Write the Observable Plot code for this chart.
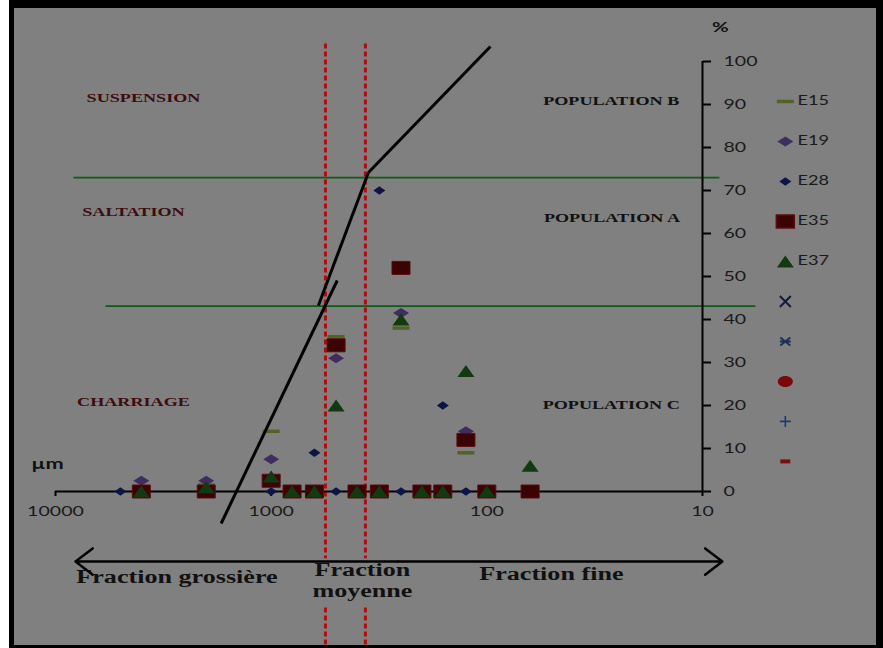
<!DOCTYPE html>
<html><head><meta charset="utf-8">
<script src="https://cdn.jsdelivr.net/npm/d3@7"></script>
<script src="https://cdn.jsdelivr.net/npm/@observablehq/plot@0.6"></script>
<style>
body{margin:0;background:#fff;}
#wrap{position:relative;width:883px;height:648px;overflow:hidden;background:#fff;}
#frame{position:absolute;left:9px;top:0;width:874px;height:648px;box-sizing:border-box;background:#808080;border-style:solid;border-color:#000;border-width:8px 7px 3px 5px;}
#chart{position:absolute;left:0;top:0;width:883px;height:648px;}
</style></head><body>
<div id="wrap"><div id="frame"></div><div id="chart"></div></div>
<script>
// ---- data: sieve sizes (µm) and % retained per sample ----
const sizes = [5000, 4000, 2000, 1000, 800, 630, 500, 400, 315, 250, 200, 160, 125, 100, 63];
const E15 = [null, 0, 1.5, 14, 0, 0, 36, 0, 0, 38, 0, 0, 9, 0, 0];
const E19 = [null, 2.5, 2.5, 7.5, 0, 0, 31, 0, 0, 41.5, 0, 0, 14, 0, 0];
const E28 = [0, 0, 0, 0, 0, 9, 0, 0, 70, 0, 0, 20, 0, 0, 0];
const E35 = [null, 0, 0, 2.5, 0, 0, 34, 0, 0, 52, 0, 0, 12, 0, 0];
const E37 = [null, 0, 1, 3.5, 0, 0, 20, 0, 0, 40, 0, 0, 28, 0, 6];
const seriesNames = ["E15", "E19", "E28", "E35", "E37"];

// axis ticks
const xTicks = [10000, 1000, 100, 10];
const yTicks = [0, 10, 20, 30, 40, 50, 60, 70, 80, 90, 100];

// population boundaries (%), fraction limits (µm)
const popLimits = [73, 43.1];
const popLimitFrom = [8253, 5864];
const popLimitTo = [8.35, 5.69];
const fractionLimits = [560, 365.6];

// segments of the cumulative-curve interpretation (µm, %)
const segX1 = [1706, 604, 354];
const segY1 = [-7.44, 43.26, 74.2];
const segX2 = [494, 354, 96.2];
const segY2 = [49.07, 74.2, 103.5];

// annotations
const zoneLabels = ["SUSPENSION", "SALTATION", "CHARRIAGE"];
const zoneX = [3909, 4350, 4350];
const zoneY = [91.4, 64.9, 20.9];
const popLabels = ["POPULATION B", "POPULATION A", "POPULATION C"];
const popX = [26.5, 26.3, 26.5];
const popY = [90.7, 63.5, 20.2];
const fracLabels = ["Fraction grossière", "Fraction", "moyenne", "Fraction fine"];
const fracX = [2735, 377.5, 377.5, 50.2];
const fracY = [-20, -18.4, -23.3, -19.3];
const legendLabels = ["E15", "E19", "E28", "E35", "E37", "", "", "", "", ""];

// ---- styles ----
const sym = {
  rect: (w, h) => ({draw(c){c.moveTo(-w/2,-h/2);c.lineTo(w/2,-h/2);c.lineTo(w/2,h/2);c.lineTo(-w/2,h/2);c.closePath();}}),
  diamond: (w, h) => ({draw(c){c.moveTo(0,-h/2);c.lineTo(w/2,0);c.lineTo(0,h/2);c.lineTo(-w/2,0);c.closePath();}}),
  tri: (w, h) => ({draw(c){c.moveTo(0,-h/2);c.lineTo(w/2,h/2);c.lineTo(-w/2,h/2);c.closePath();}}),
  ellipse: (w, h) => ({draw(c){const k=0.5523;const a=w/2,b=h/2;c.moveTo(a,0);c.bezierCurveTo(a,b*k,a*k,b,0,b);c.bezierCurveTo(-a*k,b,-a,b*k,-a,0);c.bezierCurveTo(-a,-b*k,-a*k,-b,0,-b);c.bezierCurveTo(a*k,-b,a,-b*k,a,0);c.closePath();}}),
  times: (s) => ({draw(c){c.moveTo(-s,-s);c.lineTo(s,s);c.moveTo(s,-s);c.lineTo(-s,s);}}),
  star: (s) => ({draw(c){c.moveTo(-s,-s*0.8);c.lineTo(s,s*0.8);c.moveTo(s,-s*0.8);c.lineTo(-s,s*0.8);c.moveTo(-s*1.1,0);c.lineTo(s*1.1,0);}}),
  plus: (s) => ({draw(c){c.moveTo(-s,0);c.lineTo(s,0);c.moveTo(0,-s);c.lineTo(0,s);}})
};
const seriesStyle = {
  E15: {symbol: sym.rect(17, 3.5), fill: "#506525", stroke: "none"},
  E19: {symbol: sym.diamond(16, 10), fill: "#3f2e5d", stroke: "none"},
  E28: {symbol: sym.diamond(12, 8.5), fill: "#0d1548", stroke: "none"},
  E35: {symbol: sym.rect(18, 13), fill: "#3b0303", stroke: "#5c0c0c"},
  E37: {symbol: sym.tri(17, 12), fill: "#113a11", stroke: "none"}
};
const extraLegend = [
  {symbol: sym.times(5.5), fill: "none", stroke: "#151a3a", sw: 2},
  {symbol: sym.star(5), fill: "none", stroke: "#1d2f5c", sw: 2},
  {symbol: sym.ellipse(15, 11), fill: "#7a0909", stroke: "none", sw: 1},
  {symbol: sym.plus(5.5), fill: "none", stroke: "#1e3a70", sw: 1.6},
  {symbol: sym.rect(10, 4), fill: "#7a0d0d", stroke: "none", sw: 1}
];
const values = {E15, E19, E28, E35, E37};

const pointMarks = seriesNames.map(name => {
  const data = sizes.map((s, i) => ({size: s, v: values[name][i]})).filter(d => d.v != null);
  const st = seriesStyle[name];
  return Plot.dot(data, {x: "size", y: "v", symbol: st.symbol, fill: st.fill, stroke: st.stroke, strokeWidth: 1, r: 5});
});

// legend (placed in the right margin, in data units)
const legX = 4.13, legTextX = 3.63;
const legRows = legendLabels.map((t, i) => ({t, i, y: 90.7 - i * 9.3}));
const legendMarks = [
  ...seriesNames.map((name, i) => Plot.dot([legRows[i]], {x: () => legX, y: "y", symbol: seriesStyle[name].symbol, fill: seriesStyle[name].fill, stroke: seriesStyle[name].stroke, r: 5})),
  ...extraLegend.map((e, j) => Plot.dot([legRows[5 + j]], {x: () => legX, y: "y", symbol: e.symbol, fill: e.fill, stroke: e.stroke, strokeWidth: e.sw, r: 5})),
  Plot.text(legRows.filter(d => d.t), {x: () => legTextX, y: "y", text: "t", textAnchor: "start", fontSize: 12.5, fill: "#1a1a1a"})
];

const limits = popLimits.map((y, i) => ({y, x1: popLimitFrom[i], x2: popLimitTo[i]}));
const segs = segX1.map((x, i) => ({x1: x, y1: segY1[i], x2: segX2[i], y2: segY2[i]}));
const dashParts = fractionLimits.flatMap(x => [{x, y1: 104.2, y2: -15.5}, {x, y1: -27, y2: -35.8}]);
const rows = (labels, xs, ys) => labels.map((t, i) => ({t, x: xs[i], y: ys[i]}));

const chart = Plot.plot({
  width: 883, height: 648,
  marginLeft: 55, marginRight: 181, marginTop: 61, marginBottom: 157,
  style: {background: "transparent", overflow: "visible", fontFamily: "Lato", fontSize: "13.5px", color: "#111"},
  x: {type: "log", domain: [10000, 10]},
  y: {domain: [0, 100]},
  marks: [
    Plot.link(limits, {x1: "x1", x2: "x2", y1: "y", y2: "y", stroke: "#0f5a16", strokeWidth: 1.6}),
    Plot.link(dashParts, {x1: "x", x2: "x", y1: "y1", y2: "y2", stroke: "#b20c0c", strokeWidth: 3, strokeDasharray: "5,3"}),
    Plot.ruleY([0], {x1: 10000, x2: 10, stroke: "#000", strokeWidth: 2}),
    Plot.ruleX([10], {y1: 0, y2: 100, stroke: "#000", strokeWidth: 2}),
    Plot.axisX({ticks: xTicks, tickFormat: d => String(d), tickSize: 5, tickPadding: 10, label: null, stroke: "#000", strokeWidth: 2, fill: "#1a1a1a"}),
    Plot.axisY({anchor: "right", ticks: yTicks, tickFormat: d => String(d), tickSize: 8, tickPadding: 13, label: null, stroke: "#000", strokeWidth: 2, fill: "#1a1a1a"}),
    ...pointMarks,
    Plot.link(segs, {x1: "x1", y1: "y1", x2: "x2", y2: "y2", stroke: "#000", strokeWidth: 3}),
    Plot.arrow([{a: 257, b: 8077}, {a: 257, b: 8.09}], {x1: "a", x2: "b", y1: () => -16.3, y2: () => -16.3, stroke: "#000", strokeWidth: 2.5, headLength: 13, headAngle: 75}),
    Plot.text(rows(zoneLabels, zoneX, zoneY), {x: "x", y: "y", text: "t", fontFamily: "Liberation Serif", fontWeight: "bold", fontSize: 12.5, fill: "#3e0c0c"}),
    Plot.text(rows(popLabels, popX, popY), {x: "x", y: "y", text: "t", fontFamily: "Liberation Serif", fontWeight: "bold", fontSize: 12.5, fill: "#111"}),
    Plot.text(rows(fracLabels, fracX, fracY), {x: "x", y: "y", text: "t", fontFamily: "Liberation Serif", fontWeight: "bold", fontSize: 18, fill: "#111"}),
    Plot.text([{t: "µm"}], {x: () => 10890, y: () => 6.3, text: "t", fontWeight: "bold", fontSize: 15, fill: "#111"}),
    Plot.text([{t: "%"}], {x: () => 8.26, y: () => 107.9, text: "t", fontWeight: "bold", fontSize: 14, fill: "#111"}),
    ...legendMarks
  ]
});
document.getElementById("chart").appendChild(chart);

// the reference picture is horizontally stretched: widen every text
const STRETCH = 1.45;
chart.querySelectorAll("text").forEach(t => {
  const len = t.getComputedTextLength();
  if (len > 0) {
    t.setAttribute("textLength", (len * STRETCH).toFixed(1));
    t.setAttribute("lengthAdjust", "spacingAndGlyphs");
  }
});
</script>
</body></html>
